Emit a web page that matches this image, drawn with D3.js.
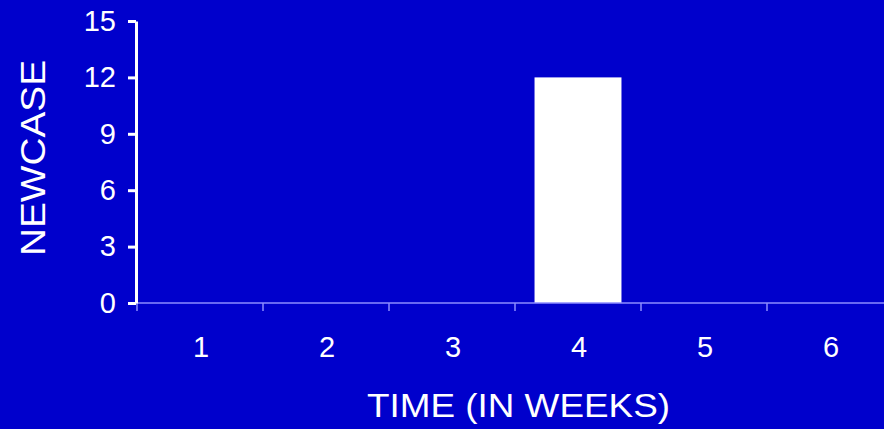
<!DOCTYPE html>
<html>
<head>
<meta charset="utf-8">
<script src="https://cdn.jsdelivr.net/npm/d3@7"></script>
<style>
  html, body { margin: 0; padding: 0; background: #0000cc; }
  text { font-family: "Liberation Sans", Arial, sans-serif; fill: #fff; }
</style>
</head>
<body>
<svg id="chart" width="884" height="429"></svg>
<script>
const weeks = ["1", "2", "3", "4", "5", "6"];
const newCases = [0, 0, 0, 12, 0, 0];
const yTicks = [0, 3, 6, 9, 12, 15];

const svg = d3.select("#chart");
const W = 884, H = 429;
let margin = { left: 137, right: -9, top: 21, bottom: 127 };

svg.append("rect").attr("width", W).attr("height", H).attr("fill", "#0000cc");

let x = d3.scaleBand()
    .domain(weeks)
    .range([margin.left, W - margin.right])
    .paddingInner(0.31)
    .paddingOuter(0.155);

let y = d3.scaleLinear()
    .domain([0, 15])
    .range([H - margin.bottom + 1, margin.top]);

// bars
svg.append("g")
    .selectAll("rect")
    .data(weeks.map((w, i) => ({ week: w, value: newCases[i] })).filter(d => d.value > 0))
    .enter()
    .append("rect")
        .attr("x", d => x(d.week))
        .attr("y", d => y(d.value))
        .attr("width", x.bandwidth())
        .attr("height", d => y(0) - y(d.value))
        .attr("fill", "#fff");

// x axis: thin light line, ticks at category boundaries
let step = x.step();
let xAxis = svg.append("g");
xAxis.append("line")
    .attr("x1", margin.left).attr("x2", W)
    .attr("y1", y(0)).attr("y2", y(0))
    .attr("stroke", "#8c8cff").attr("stroke-width", 1.5);
xAxis.selectAll("line.tick")
    .data(d3.range(weeks.length + 1))
    .enter()
    .append("line")
        .attr("class", "tick")
        .attr("x1", i => margin.left + i * step)
        .attr("x2", i => margin.left + i * step)
        .attr("y1", y(0)).attr("y2", y(0) + 8)
        .attr("stroke", "#8c8cff").attr("stroke-width", 1.5);
xAxis.selectAll("text")
    .data(weeks)
    .enter()
    .append("text")
        .attr("x", d => x(d) + x.bandwidth() / 2 + 1)
        .attr("y", 357)
        .attr("text-anchor", "middle")
        .attr("font-size", 29)
        .text(d => d);

// y axis
let yAxis = svg.append("g")
    .attr("transform", `translate(${margin.left - 1},0)`)
    .call(d3.axisLeft(y).tickValues(yTicks).tickSize(8).tickPadding(12).tickSizeOuter(0));
yAxis.select(".domain").attr("stroke", "#fff").attr("stroke-width", 3);
yAxis.selectAll(".tick line").attr("stroke", "#fff").attr("stroke-width", 3);
yAxis.selectAll(".tick text")
    .attr("font-size", 29)
    .attr("fill", "#fff")
    .attr("font-family", "Liberation Sans, Arial, sans-serif");

// axis titles
svg.append("text")
    .attr("x", 367).attr("y", 417)
    .attr("font-size", 33)
    .attr("textLength", 303)
    .attr("lengthAdjust", "spacingAndGlyphs")
    .text("TIME (IN WEEKS)");

svg.append("text")
    .attr("transform", "translate(45,256) rotate(-90)")
    .attr("font-size", 35)
    .attr("textLength", 196)
    .attr("lengthAdjust", "spacingAndGlyphs")
    .text("NEWCASE");
</script>
</body>
</html>
